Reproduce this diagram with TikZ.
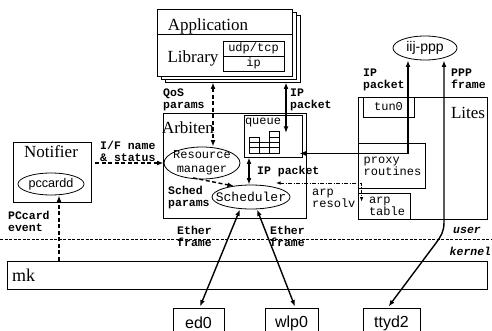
\documentclass[tikz,border=0pt]{standalone}
\usepackage{fontspec}
\setmainfont{Liberation Serif}
\setsansfont{Liberation Sans}
\setmonofont{Liberation Mono}
\usetikzlibrary{arrows.meta,shapes.geometric,calc}
\begin{document}
\begin{tikzpicture}[x=1pt,y=-1pt,
  box/.style={draw,line width=0.8pt,inner sep=0pt,rectangle},
  ell/.style={draw,ellipse,line width=0.8pt,inner sep=0pt},
  ser/.style={font=\fontsize{17}{17}\selectfont\rmfamily,inner sep=0pt},
  mono/.style={font=\fontsize{12}{12}\selectfont\ttfamily,inner sep=0pt},
  lbl/.style={font=\fontsize{11.5}{11.5}\selectfont\ttfamily\bfseries,inner sep=0pt,align=left,anchor=north west},
  ukl/.style={font=\fontsize{11.5}{11.5}\selectfont\ttfamily\bfseries\itshape,inner sep=0pt,anchor=north west},
  sans/.style={font=\fontsize{16}{16}\selectfont\sffamily,inner sep=0pt},
  sarr/.style={line width=1.4pt,{Latex[length=6.5pt,width=4.8pt]}-{Latex[length=6.5pt,width=4.8pt]}},
  oarr/.style={line width=1.4pt,-{Latex[length=6.5pt,width=4.8pt]}},
  tarr/.style={line width=0.8pt,{Latex[length=4.5pt,width=3.5pt]}-{Latex[length=4.5pt,width=3.5pt]}},
  dsh/.style={dash pattern=on 4pt off 2.5pt},
]
\useasboundingbox (0,0) rectangle (492,331);

% user / kernel separator
\coordinate (ukL) at (0,239);
\coordinate (ukR) at (492,239);
\draw[line width=0.7pt,dash pattern=on 3pt off 1.5pt] (ukL) -- (ukR);
\node[ukl] (user) at (453,227) {user};
\node[ukl] (kern) at (449.5,247) {kernel};

% Application stack
\node[box,fill=white,minimum width=135pt,minimum height=67pt] (app3) at (232.5,48.5) {};
\node[box,fill=white,minimum width=135pt,minimum height=67pt] (app2) at (228.5,45.5) {};
\node[box,fill=white,minimum width=135pt,minimum height=67pt] (app) at (224.5,42.5) {};
\draw[line width=0.8pt] ($(app.north west)+(0,26)$) -- ($(app.north east)+(0,26)$);
\node[ser] (tapp) at (208,26) {Application};
\node[ser] (tlib) at (193,58) {Library};
\node[box,mono,minimum width=61pt,minimum height=15pt] (udp) at (253.5,48.5) {udp/tcp};
\node[box,mono,minimum width=61pt,minimum height=15pt] (ip) at (253.5,63.5) {ip};

% Arbiten
\node[box,minimum width=143pt,minimum height=105pt] (arb) at (234.5,165.5) {};
\node[ser] (tarb) at (188,128) {Arbiten};
\node[box,minimum width=58pt,minimum height=42pt] (queue) at (273,136) {};
\node[mono] (tq) at (263,123) {queue};
\foreach \c/\m in {0/3,1/2,2/4}
  \foreach \r in {1,...,\m}
    \draw[line width=0.7pt] (249+10*\c,153-5.3*\r) rectangle ++(10,5.3);
\node[ell,minimum width=76pt,minimum height=32pt] (rm) at (202,163) {};
\node[mono,align=center,font=\fontsize{12}{14}\selectfont\ttfamily] (trm) at (rm) {Resource\\manager};
\node[ell,minimum width=78pt,minimum height=24pt] (sch) at (251,197) {};
\node[mono,font=\fontsize{13}{13}\selectfont\ttfamily] (tsch) at (sch) {Scheduler};

% Notifier
\node[box,minimum width=78pt,minimum height=60pt] (notif) at (52,172) {};
\node[ser] (tnot) at (51,152) {Notifier};
\node[ell,minimum width=66pt,minimum height=22pt] (pcc) at (51,184) {};
\node[sans,font=\fontsize{12.6}{13}\selectfont\sffamily] (tpcc) at (pcc) {pccardd};

% Lites
\node[box,minimum width=129pt,minimum height=122pt] (lites) at (422.5,158) {};
\node[ser] (tlites) at (468,113) {Lites};
\node[box,minimum width=51pt,minimum height=20pt] (tun) at (388.5,107) {};
\node[mono] (ttun) at (tun) {tun0};
\node[box,minimum width=67pt,minimum height=45pt] (proxy) at (391.5,165.5) {};
\node[mono,align=left] (tproxy) at (392.5,166) {proxy\\routines};
\node[box,minimum width=52pt,minimum height=26pt] (arp) at (384,206) {};
\node[mono,align=left] (tarp) at (387,206) {arp\\table};

\node[ell,minimum width=64pt,minimum height=24pt] (iij) at (425,48) {};
\node[sans,font=\fontsize{14}{14}\selectfont\sffamily] (tiij) at (iij) {iij-ppp};

% mk
\node[box,minimum width=480pt,minimum height=28pt] (mk) at (247,275) {};
\node[ser,font=\fontsize{18}{18}\selectfont\rmfamily,anchor=west] (tmk) at (12,275) {mk};

% devices
\node[box,minimum width=51pt,minimum height=30pt] (ed0) at (198.5,323) {};
\node[sans] (ted0) at (ed0) {ed0};
\node[box,minimum width=53pt,minimum height=30pt] (wlp) at (291.5,323) {};
\node[sans] (twlp) at (wlp) {wlp0};
\node[box,minimum width=57pt,minimum height=30pt] (ttyd) at (391.5,323) {};
\node[sans] (tttyd) at (ttyd) {ttyd2};

% labels
\node[lbl] (lqos) at (163,89) {QoS\\params};
\node[lbl] (lip1) at (290,89) {IP\\packet};
\node[lbl] (lip2) at (363,69) {IP\\packet};
\node[lbl] (lppp) at (451,69) {PPP\\frame};
\node[lbl] (lif) at (100,141) {I/F name\\\& status};
\node[lbl] (lsch) at (168,186) {Sched\\params};
\node[lbl] (lip3) at (257,166) {IP packet};
\node[mono,align=left,anchor=north west] (lres) at (312,189) {arp\\resolv};
\node[lbl] (lpc) at (8,211) {PCcard\\event};
\node[lbl] (leth1) at (177,226) {Ether\\frame};
\node[lbl] (leth2) at (270,226) {Ether\\frame};

% connectors
\coordinate (qx) at (213,0);
\draw[sarr,dsh] (app3.south -| qx) -- (rm.north -| qx);
\coordinate (ipx) at (286,133);
\draw[sarr] (app3.south -| ipx) -- (ipx);
\draw[oarr,dsh] ($(notif.east |- rm.west)+(4,0)$) -- (rm.west);
\coordinate (pcx) at ($(pcc.south)+(8,0)$);
\draw[oarr,dsh] (mk.north -| pcx) -- (pcx);
\draw[oarr,dsh] ($(rm.south)+(-9,-1.5)$) -- ($(sch.north)+(-17,1.5)$);
\draw[sarr] ($(queue.south)+(-24,0)$) -- ($(sch.north)+(-2,0)$);
\draw[sarr] ($(queue.south east)+(-3,-4)$) -| ($(iij.south)+(-17,0)$);
\coordinate (arpL) at (276,183);
\draw[tarr,dash pattern=on 4pt off 1.5pt on 1pt off 1.5pt] (arpL) -| ($(arp.north west)+(4,9)$);
\draw[sarr] ($(ed0.north)+(1.5,-1)$) -- ($(sch.south)+(-11,0)$);
\draw[sarr] ($(wlp.north)+(3.5,-1)$) -- ($(sch.south)+(6,0)$);
\coordinate (pppT) at ($(iij.south)+(19,0)$);
\draw[sarr] (pppT) -- (444,222) .. controls (444,232) and (441,236) .. (436,243) -- ($(ttyd.north)+(-3,-1)$);
\end{tikzpicture}
\end{document}
